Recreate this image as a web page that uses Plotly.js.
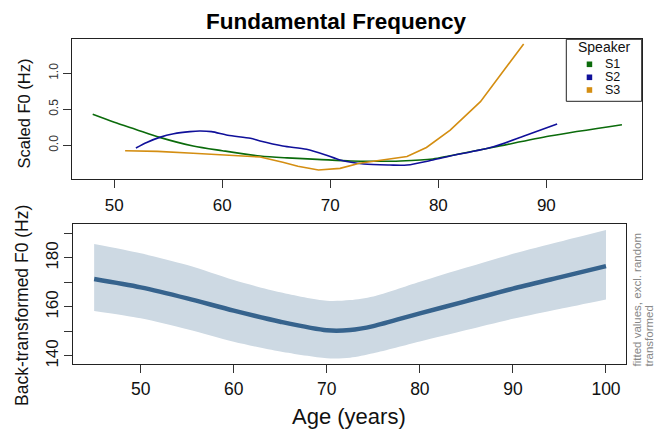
<!DOCTYPE html>
<html>
<head>
<meta charset="utf-8">
<script src="https://cdn.plot.ly/plotly-3.0.1.min.js"></script>
<style>html,body{margin:0;padding:0;background:#fff;}#chart{width:661px;height:430px;}</style>
</head>
<body>
<div id="chart"></div>
<script>
// ---- Top panel: scaled F0 per speaker ----
const speakers = ["S1", "S2", "S3"];
const speakerColors = ["#0b6b0b", "#10109a", "#d48e12"];

const s1Age = [48, 50, 52, 54.2, 57.3, 60, 63.5, 66, 68.8, 71.9, 74, 76.5, 79.5, 81.1, 85.1, 90.3, 97];
const s1F0  = [0.43, 0.32, 0.22, 0.11, -0.01, -0.075, -0.149, -0.175, -0.195, -0.218, -0.222, -0.218, -0.19, -0.144, -0.028, 0.129, 0.286];

const s2Age = [52, 53, 54.2, 55.5, 57, 57.9, 59, 60.5, 62.6, 63.5, 65.6, 67.8, 69.5, 70.9, 73.1, 75.5, 77.1, 79.5, 81.1, 85.1, 88, 91];
const s2F0  = [-0.037, 0.04, 0.11, 0.16, 0.19, 0.199, 0.19, 0.14, 0.097, 0.06, -0.01, -0.056, -0.13, -0.204, -0.26, -0.274, -0.274, -0.204, -0.149, -0.019, 0.134, 0.296];

const s3Age = [51, 54, 57.3, 60, 63.5, 65.6, 67, 68.9, 70.9, 72.7, 74.9, 77.1, 78.9, 81.1, 83.9, 86.6, 87.9];
const s3F0  = [-0.075, -0.084, -0.11, -0.135, -0.162, -0.235, -0.29, -0.343, -0.32, -0.25, -0.204, -0.155, -0.03, 0.212, 0.606, 1.139, 1.407];

const topXTicks = [50, 60, 70, 80, 90];
const topYTicks = [0, 0.5, 1.0];
const topYTickText = ["0.0", "0.5", "1.0"];

// ---- Bottom panel: back-transformed fitted F0 ----
const fitAge   = [45, 50, 55, 60, 65, 70, 72.5, 75, 80, 85, 90, 95, 100];
const fitF0    = [171.4, 168.0, 163.5, 158.5, 154.0, 150.5, 150.6, 152.2, 157.4, 162.4, 167.5, 172.1, 176.7];
const fitUpper = [185.7, 181.9, 177.1, 171.0, 166.0, 162.5, 162.8, 164.3, 170.3, 176.1, 181.7, 186.6, 191.4];
const fitLower = [158.4, 155.4, 150.9, 145.8, 141.8, 139.1, 139.3, 141.1, 145.9, 150.6, 155.2, 159.2, 163.1];

const botXTicks = [50, 60, 70, 80, 90, 100];
const botYTicks = [140, 150, 160, 170, 180, 190];
const botYTickText = ["140", "", "160", "", "180", ""];

// ---- geometry helpers (pixel -> paper) ----
const W = 661, H = 430;
const px = v => v / W;
const py = v => 1 - v / H;
const FONT = "Liberation Sans, Arial, sans-serif";

const seriesAge = [s1Age, s2Age, s3Age];
const seriesF0 = [s1F0, s2F0, s3F0];

const traces = [];
speakers.forEach((s, i) => {
  traces.push({
    x: seriesAge[i], y: seriesF0[i], type: "scatter", mode: "lines",
    line: {color: speakerColors[i], width: 1.6, shape: i === 2 ? "linear" : "spline", smoothing: 0.8},
    xaxis: "x", yaxis: "y", showlegend: false, hoverinfo: "skip"
  });
});

// confidence band: lower edge then upper edge filled to it
traces.push({
  x: fitAge, y: fitLower, type: "scatter", mode: "lines",
  line: {width: 0, color: "rgba(0,0,0,0)", shape: "spline", smoothing: 0.8},
  xaxis: "x2", yaxis: "y2", showlegend: false, hoverinfo: "skip"
});
traces.push({
  x: fitAge, y: fitUpper, type: "scatter", mode: "lines", fill: "tonexty", fillcolor: "#cdd9e3",
  line: {width: 0, color: "rgba(0,0,0,0)", shape: "spline", smoothing: 0.8},
  xaxis: "x2", yaxis: "y2", showlegend: false, hoverinfo: "skip"
});
traces.push({
  x: fitAge, y: fitF0, type: "scatter", mode: "lines",
  line: {color: "#36638d", width: 4.5, shape: "spline", smoothing: 0.8},
  xaxis: "x2", yaxis: "y2", showlegend: false, hoverinfo: "skip"
});

const axisCommon = {
  showgrid: false, zeroline: false, showline: true, mirror: true,
  linecolor: "#222", linewidth: 1, ticks: "outside", ticklen: 8,
  tickcolor: "#333", tickwidth: 1
};

const shapes = [];
const annotations = [];

// Legend box (manual)
shapes.push({type: "rect", xref: "paper", yref: "paper",
  x0: px(566.3), x1: px(641.7), y0: py(101.3), y1: py(39.3),
  line: {color: "#222", width: 1}, fillcolor: "rgba(255,255,255,1)", layer: "above"});
annotations.push({xref: "paper", yref: "paper", x: px(604), y: py(47.5), text: "Speaker",
  showarrow: false, xanchor: "center", yanchor: "middle", borderpad: 0,
  font: {family: FONT, size: 14, color: "#111"}});
const legY = [64.3, 77.3, 90];
speakers.forEach((s, i) => {
  shapes.push({type: "rect", xref: "paper", yref: "paper",
    x0: px(586.7), x1: px(592.2), y0: py(legY[i] + 2.8), y1: py(legY[i] - 2.8),
    line: {width: 0}, fillcolor: speakerColors[i], layer: "above"});
  annotations.push({xref: "paper", yref: "paper", x: px(604), y: py(legY[i]), text: s,
    showarrow: false, xanchor: "left", yanchor: "middle", borderpad: 0,
    font: {family: FONT, size: 12.5, color: "#111"}});
});

// Titles
annotations.push({xref: "paper", yref: "paper", x: px(336.5), y: py(22), text: "<b>Fundamental Frequency</b>",
  showarrow: false, xanchor: "center", yanchor: "middle", font: {family: FONT, size: 22.5, color: "#000"}});
annotations.push({xref: "paper", yref: "paper", x: px(23.5), y: py(114), text: "Scaled F0 (Hz)", textangle: -90,
  showarrow: false, xanchor: "center", yanchor: "middle", font: {family: FONT, size: 16.5, color: "#111"}});
annotations.push({xref: "paper", yref: "paper", x: px(22), y: py(306), text: "Back-transformed F0 (Hz)", textangle: -90,
  showarrow: false, xanchor: "center", yanchor: "middle", font: {family: FONT, size: 17.5, color: "#111"}});
annotations.push({xref: "paper", yref: "paper", x: px(349.5), y: py(416), text: "Age (years)",
  showarrow: false, xanchor: "center", yanchor: "middle", font: {family: FONT, size: 22, color: "#111"}});
annotations.push({xref: "paper", yref: "paper", x: px(636.5), y: py(368), text: "fitted values, excl. random", textangle: -90,
  showarrow: false, xanchor: "center", yanchor: "bottom", borderpad: 0, font: {family: FONT, size: 11.5, color: "#888"}});
annotations.push({xref: "paper", yref: "paper", x: px(648), y: py(368), text: "transformed", textangle: -90,
  showarrow: false, xanchor: "center", yanchor: "bottom", borderpad: 0, font: {family: FONT, size: 11.5, color: "#888"}});

const layout = {
  width: W, height: H,
  margin: {l: 0, r: 0, t: 0, b: 0, pad: 0},
  paper_bgcolor: "#fff", plot_bgcolor: "#fff",
  showlegend: false,
  xaxis: Object.assign({}, axisCommon, {
    domain: [px(72.3), px(641.7)], range: [46.11, 98.83], anchor: "y",
    tickvals: topXTicks, tickfont: {family: FONT, size: 17, color: "#111"}, ticklabelstandoff: 3
  }),
  yaxis: Object.assign({}, axisCommon, {
    domain: [py(179), py(39.3)], range: [-0.468, 1.472], anchor: "x",
    tickvals: topYTicks, ticktext: topYTickText, tickangle: -90,
    tickfont: {family: FONT, size: 12, color: "#333"}, ticklabelstandoff: 1
  }),
  xaxis2: Object.assign({}, axisCommon, {
    domain: [px(73.3), px(626)], range: [42.76, 102.15], anchor: "y2",
    tickvals: botXTicks, tickfont: {family: FONT, size: 17.5, color: "#111"}, ticklabelstandoff: 1
  }),
  yaxis2: Object.assign({}, axisCommon, {
    domain: [py(364.3), py(224.3)], range: [136.6, 193.75], anchor: "x2",
    tickvals: botYTicks, ticktext: botYTickText, tickangle: -90,
    tickfont: {family: FONT, size: 17, color: "#111"}, ticklabelstandoff: 0
  }),
  shapes: shapes,
  annotations: annotations
};

Plotly.newPlot("chart", traces, layout, {staticPlot: true, displayModeBar: false});
</script>
</body>
</html>
